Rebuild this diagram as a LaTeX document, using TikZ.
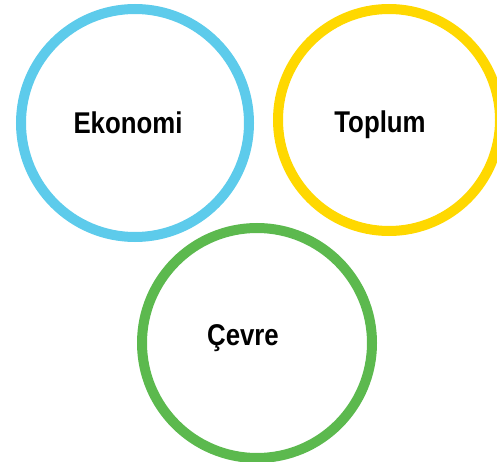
\documentclass[tikz,border=0pt]{standalone}
\usepackage{fontspec}
\setmainfont{Liberation Sans}[FakeStretch=0.86]
\definecolor{cblue}{HTML}{5DCBEB}
\definecolor{cyellow}{HTML}{FFD800}
\definecolor{cgreen}{HTML}{5CB94E}
\begin{document}
\begin{tikzpicture}[x=1pt,y=-1pt,
  ring/.style={circle, line width=10pt, minimum size=228pt, inner sep=0pt},
  lbl/.style={font=\fontsize{30}{30}\selectfont\bfseries, anchor=base, inner sep=0pt}]
\useasboundingbox (0,0) rectangle (497,462);
\clip (0,0) rectangle (497,462);
\node[ring, draw=cblue] (eko) at (135,123) {};
\node[ring, draw=cyellow, minimum size=222pt] (top) at (389,120) {};
\node[ring, draw=cgreen, minimum size=230pt] (cev) at (257,343) {};
\node[lbl] (t1) at (128,134) {Ekonomi};
\node[lbl] (t2) at (380,133) {Toplum};
\node[lbl] (t3) at (243,345) {Çevre};
\end{tikzpicture}
\end{document}
